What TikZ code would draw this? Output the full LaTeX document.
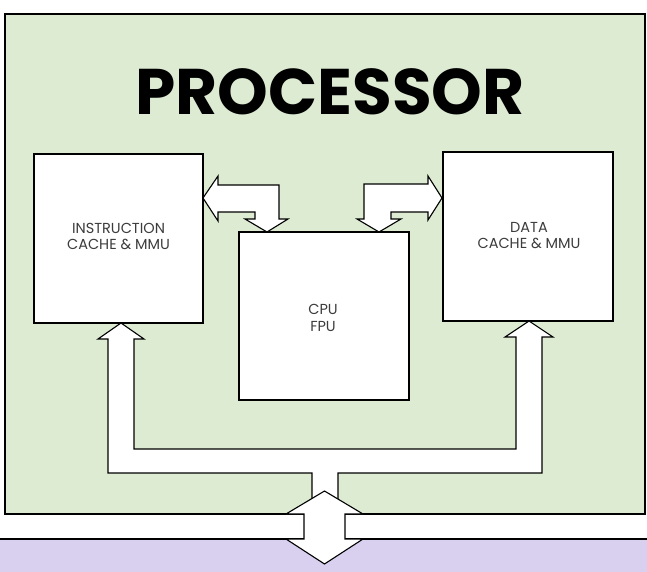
\documentclass[tikz,border=0pt]{standalone}
\usepackage{fontspec}
\usepackage{graphicx}
\newfontfamily\titlefont{Poppins}
\newfontfamily\labelfont{Poppins}
\definecolor{procgreen}{RGB}{221,235,211}
\definecolor{buslav}{RGB}{217,208,240}
\definecolor{labelgray}{RGB}{60,60,60}
\tikzset{
  unitbox/.style={draw=black, fill=white, line width=1.2pt, inner sep=0pt},
  busshape/.style={draw=black, fill=white, line width=1.1pt, line join=miter},
  lbl/.style={inner sep=0pt, align=center, text=labelgray,
    font=\labelfont\fontsize{14.5}{15.5}\selectfont}
}
\begin{document}
\begin{tikzpicture}[x=1pt, y=-1pt]
\useasboundingbox (0,0) rectangle (647,572);
% external bus area
\fill[buslav] (0,539) rectangle (647,572);
\fill[white] (0,514) rectangle (647,539);
\draw[line width=1.2pt] (0,539) -- (647,539);
% processor
\node[draw=black, fill=procgreen, line width=1.8pt, inner sep=0pt,
      minimum width=640pt, minimum height=500pt] (proc) at (325,264) {};
% units
\node[unitbox, minimum width=169pt, minimum height=169pt] (icache) at (118.5,238.5) {};
\node[unitbox, minimum width=170pt, minimum height=169pt] (dcache) at (528,236.5) {};
\node[unitbox, minimum width=170pt, minimum height=168pt] (cpu) at (324,316) {};
% internal bus
\draw[busshape] (108,339) -- (98,339) -- (121,323) -- (144,339) -- (134,339)
  -- (134,449) -- (516,449) -- (516,337) -- (505,337) -- (529,321) -- (553,337)
  -- (542,337) -- (542,473) -- (338,473) -- (338,505) -- (312,505) -- (312,473)
  -- (108,473) -- cycle;
% cpu <-> instruction cache
\draw[busshape] (203,198) -- (218,176) -- (218,185) -- (279,185) -- (279,219)
  -- (288,219) -- (267,232) -- (245,219) -- (255,219) -- (255,212) -- (218,212)
  -- (218,221) -- cycle;
% cpu <-> data cache
\draw[busshape] (442,198) -- (428,176) -- (428,184) -- (364,184) -- (364,219)
  -- (357,219) -- (379,232) -- (401,219) -- (391,219) -- (391,212) -- (428,212)
  -- (428,220) -- cycle;
% processor <-> external bus
\draw[busshape] (324.5,491) -- (363,514) -- (345,514) -- (345,539) -- (363,539)
  -- (324.5,564) -- (286,539) -- (304,539) -- (304,514) -- (286,514) -- cycle;
% texts
\node[inner sep=0pt] (title) at (330,92)
  {\resizebox{389pt}{!}{\titlefont\bfseries PROCESSOR}};
\node[lbl] (ilbl) at (118.5,236.7) {INSTRUCTION\\CACHE \& MMU};
\node[lbl] (dlbl) at (529,235.5) {DATA\\CACHE \& MMU};
\node[lbl, font=\labelfont\fontsize{14.5}{17}\selectfont] (clbl) at (323,317.5) {CPU\\FPU};
\end{tikzpicture}
\end{document}
